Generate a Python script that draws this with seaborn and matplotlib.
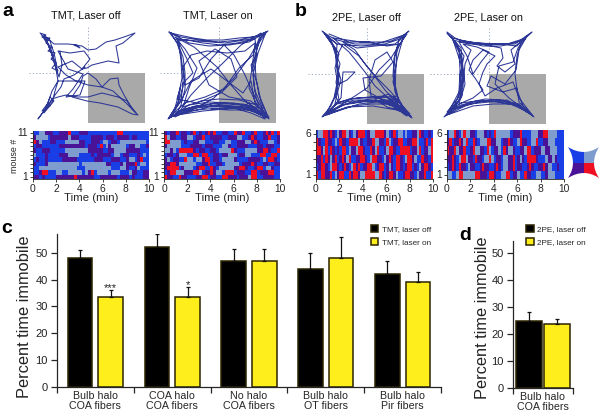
import numpy as np
import pandas as pd
import matplotlib
matplotlib.use('Agg')
import matplotlib.pyplot as plt
import seaborn as sns
from matplotlib.colors import ListedColormap
from matplotlib.patches import PathPatch, Rectangle
from matplotlib.path import Path

W, H = 600, 417

# Bar data
c_groups = ['Bulb halo\nCOA fibers', 'COA halo\nCOA fibers', 'No halo\nCOA fibers',
            'Bulb halo\nOT fibers', 'Bulb halo\nPir fibers']
c_off = [48, 52, 47, 44, 42]
c_on = [33.7, 33.7, 47, 48, 39]
c_off_err = [3, 5, 4.3, 6, 4.8]
c_on_err = [2.3, 3.4, 4.3, 7.7, 3.7]
c_stars = ['***', '*', '', '', '']
d_groups = ['Bulb halo\nCOA fibers']
d_off = [24.7]
d_on = [23.8]
d_off_err = [3.4]
d_on_err = [1.7]
y_ticks = [0, 10, 20, 30, 40, 50]

# Ethogram rows, top row first. B blue, L light, P purple, R red
a1_rows = [
    'BBLLPPPBBP PPRBBBPPPB BBBBBBBBBR RBBBBBBBBB',
    'PLLLLBPPPP PPLPPPBBBB PPPPBPPPBP PPPBPPBBBB',
    'RPLBBBPPBB BLLLLLPPBB PPPBLLBPPB LLLLLLLLLB',
    'BPPBBBBBBP PPPPPPPPBP PPBRBLPLLL LLBPPLLBBP',
    'PBBPPPBBBB BLLLLLLLLP PPPPBBPPLL LLPPPPPBBB',
    'LBBBPBBBBP PPLLLLBBBB PBPPPPPBLL BPPBBBPBLB',
    'BPBBPBBBBB PPPPPBBBBB BPPPBBBPPP BBPLLBPRBB',
    'PBBBPLLLLL LLLLLLBLLL LLLLLPPBBB PLPPPRBLLB',
    'BBLLLLLLLL LLLLLBBBLL LLLLLLLBBB LLPBBPLBBB',
    'BBPRRBBBLL BBLLLLLBLP RBLLLLBLLL BBBLPPBBPP',
    'PPBPBBBBPP PPPPRPPPPP PBBPPPPPPB PPPBPBBBPP',
]
a2_rows = [
    'PBPPRBPPBP RBPBPRPRBB PPBBRPPRBB PRBBPRPRBR',
    'RLPPBBPPLL BPPRBBPPPP BBPPPLLBBP RPBBPPRBBP',
    'RRLLLLBPBB PPLLBBBPPB BLLBBPPPLL PRPBBBLLBP',
    'PLLLLLBBBP PPPBPPPBBB LLPBBPPPPB BBPPBPPPBB',
    'LLPLBRRRRR PBPPBBPPBL LLLRPBBBLL LLPPRRPBBR',
    'BPPBPLLLBB RRBRRBBPPB PPLLLBPPLL BBBRRBBRRB',
    'PLBPPBBRLL BLLPRRBPPB LLLLPBBBBP PPPBLBRRPB',
    'PPRRPLLLLL LBBPPRBBPP BLLLLLBPPP RPBBPPBBPP',
    'PRRRRBPLLL BPRRBBRPBL LLLLPPRRPB BPRRBLLPBB',
    'BPRRLLLPPP RRLBPPRPLL BRRRBPPPBB RRBPPPRRBB',
    'RPPBBRPPBB BPPRRBPPBB RRPPPBPPPL RRBBPPPPBB',
]
b1_rows = [
    'BLLRRPRPBL PRRLPBLPRR RBPLLRRRRP LBPRBLLBLB BPPLRPBBPB',
    'RPBBRPPBLB RPPBRRRRLP BBPPRLLPPB RLBPPRRBBP PRRLBBPRBR',
    'RRPLRBRPBP BRRBLPPLRR PBBRPLRBBP LRRPBBRRRR BPPLRBPPLR',
    'PPRBRPLPRB PRPLRBBPPR RPBLRRPPBL PRPBRRPBLR RPLBBRPPBR',
    'BPRRPBLRRP BPRPBLRPRB PPRRLBPRRB PLPBRRPBPR RBPBLPRRPB',
    'RBRRPPRBLP RRBBRPRRPL LRRRRLLRPB PRRPLBBPRR PPBLPPRBBR',
]
b2_rows = [
    'BLLRPBLRLL PPBLLLPBPB RLLLLLLBPP PRBBBBLLLP PRRLLLLBBB',
    'PRBPPRPLRB BRPBLLLRRP PLLBPPRPBB LRPPBBLLRB BPPLLLBBBB',
    'RPPRLPPRBB PRLLPPBRLB PPLBRPLLPB BPPLRRBPPP LLPPLLLBBB',
    'PPRPBLRRLP PBRPPBLLRL BPPBLLPPRB PLPBRRRRPB BBLPPLPBBB',
    'BPRPBRPPBL PPBBPRPPBB PRPBLLPPRB PPBBPRPBBP PRPLLBBPBB',
    'LLBBLRRLLL LLRRPPPBRR PBBLLRRBPP LBBRPPBBLL BBPLLLBBBB',
]

# Arena tracks, relative to the centre of the open field
a1_path = [
    (-48, -40), (-42, -38), (-46, -36), (-38, -35), (-42, -30), (-36, -26), (-40, -22), (-33, -20),
    (-37, -14), (-32, -10), (-36, -5), (-30, -2), (-34, -12), (-39, -27), (-44, -38), (-34, -29),
    (-20, -29), (-11, -28), (-8, -25), (-14, -28), (-6, -27), (0, -23), (8, -24), (18, -31),
    (27, -33), (36, -36), (47, -40), (35, -30), (28, -27), (30, -16), (31, -10), (20, -12),
    (12, -10), (4, -8), (-1, -5), (-6, -4), (-3, -6), (-14, 2), (-24, 6), (-27, 14),
    (-33, 22), (-38, 30), (-44, 38), (-50, 46), (-42, 35), (-36, 26), (-30, 24), (-22, 22),
    (-10, 24), (0, 24), (14, 20), (30, 24), (39, 28), (44, 36), (50, 42), (44, 41),
    (30, 34), (12, 30), (-1, 28), (-16, 24), (-8, 12), (-5, 3), (0, 0), (8, 6),
    (14, 14), (22, 6), (30, 5), (31, 12), (36, 22), (42, 32), (48, 40), (38, 30),
    (25, 18), (14, 14), (0, 12), (-12, 8), (-22, 2), (-30, -6), (-16, -12), (-6, -4),
    (2, -14), (-4, -22), (-18, -20), (-30, -22), (-20, -4), (-5, 1), (-15, 16), (-22, 24),
    (-8, 22), (-3, 8), (-30, 8), (-36, 18), (-40, 30), (-46, 38),
    (-38, 33), (-42, 36), (-34, 28), (-38, 24), (-44, 40), (-36, 30), (-33, 18), (-30, 8),
    (-32, -4), (-36, -18), (-41, -32), (-47, -39), (-40, -28), (-35, -16), (-31, -6), (-34, -20),
    (-38, -32), (-44, -36), (-37, -24), (-33, -8), (-29, 4), (-26, -8), (-28, -22),
]
a2_path = [
    (-50, -41), (-44, -38), (-38, -36), (-20, -33), (0, -31), (20, -33), (38, -37), (49, -42),
    (42, -36), (38, -25), (36, -10), (37, 5), (40, 22), (50, 46), (40, 38), (20, 34),
    (0, 32), (-20, 34), (-38, 38), (-51, 46), (-44, 35), (-40, 20), (-37, 5), (-38, -12),
    (-40, -28), (-50, -41), (-30, -30), (-10, -27), (10, -28), (30, -31), (44, -39), (30, -15),
    (15, 5), (-5, 25), (-25, 36), (-48, 44), (-30, 32), (-10, 29), (15, 30), (35, 35),
    (48, 44), (35, 22), (25, 0), (15, -18), (5, -28), (-8, -14), (-20, 5), (-34, 12),
    (-36, -6), (-28, -18), (-12, -22), (8, -20), (26, -22), (36, -30), (33, -5), (30, 15),
    (38, 32), (20, 27), (0, 26), (-18, 28), (-36, 34), (-30, 15), (-22, -5), (-34, -24),
    (-44, -36), (-25, -26), (-2, -6), (12, 12), (26, 28), (46, 42), (28, 34), (6, 36),
    (-16, 38), (-42, 42), (-28, 22), (-12, 5), (4, -10), (22, -28), (42, -40), (34, -18),
    (20, -5), (5, 16), (-14, 24), (-34, 30), (-48, 42), (-38, 28), (-36, 10), (-26, 0),
    (-32, -14), (-42, -34), (-22, -32), (6, -30), (32, -34), (47, -41), (39, -20), (34, 2),
    (36, 18), (44, 36), (24, 31), (-4, 30), (-30, 36), (-50, 45), (-41, 30), (-38, 12),
    (-42, 26), (-22, 30), (2, 20), (18, 4), (12, -14), (-4, -24), (-20, -12), (-10, 12),
    (10, 24), (32, 28), (50, 44), (36, 30), (32, 8), (24, 20), (8, 8), (-8, -4),
    (-28, 8), (-36, 24), (-46, 40), (-24, 33), (4, 34), (28, 36), (42, 42), (30, 30),
    (18, 36), (32, 40), (46, 46), (38, 36), (14, 33), (-10, 34), (-34, 40),
    (-46, 43), (-36, 37), (-22, 35), (-8, 33), (8, 33), (22, 35), (36, 39), (47, 45),
    (40, 34), (37, 24), (35, 12), (34, -4), (36, -18), (40, -30), (46, -39), (34, -36),
    (20, -35), (4, -33), (-12, -33), (-26, -35), (-40, -38), (-48, -40), (-42, -30), (-38, -18),
    (-36, -2), (-36, 14), (-40, 28), (-48, 43), (-34, 36), (-14, 31), (10, 31), (30, 33),
    (44, 40), (34, 34), (12, 35), (-12, 36), (-32, 38), (-44, 44), (-38, 32), (-34, 16),
    (-34, 0), (-36, -16), (-42, -32), (-32, -33), (-16, -30), (2, -28), (18, -30), (36, -34),
    (38, -18), (32, -8), (38, 10), (42, 28), (48, 42), (30, 37), (10, 37), (-8, 36),
]
b1_path = [
    (-45, -43), (-38, -38), (-30, -34), (-12, -30), (6, -30), (24, -33), (34, -37), (42, -43),
    (32, -34), (28, -20), (27, -5), (28, 10), (32, 28), (45, 44), (34, 36), (18, 28),
    (0, 26), (-16, 28), (-30, 34), (-45, 43), (-36, 32), (-30, 18), (-28, 2), (-30, -14),
    (-36, -34), (-44, -42), (-32, -26), (-30, -8), (-26, 6), (-30, 20), (-32, 30), (-18, 25),
    (2, 23), (18, 22), (30, 30), (42, 41), (24, 18), (10, 4), (-2, -10), (-12, -24),
    (-24, -32), (-10, -26), (8, -28), (28, -30), (38, -38), (24, -16), (12, -4), (0, 14),
    (-12, 22), (-28, 32), (-42, 41), (-26, 24), (-24, -2), (-12, -2), (-20, 6), (-28, 10),
    (-30, -18), (-24, -30), (-8, -18), (6, 0), (18, 16), (36, 36), (20, 30), (4, 30),
    (-14, 32), (-36, 38), (-22, 30), (0, 27), (22, 26), (40, 40), (28, 18), (29, -8),
    (30, -26), (40, -40), (16, -32), (-6, -32), (-34, -36), (-18, -22), (-2, -2), (8, 12),
    (30, 32), (14, 25), (-2, 16), (-4, 4), (14, 2), (26, -12), (20, -22), (8, -14),
    (2, 6), (4, 22), (24, 28), (44, 43), (32, 28), (22, 24), (38, 38), (26, 34),
    (44, 42), (30, 36), (6, 32), (-20, 33), (-40, 41), (-28, 26), (-31, 8), (-27, -10),
    (-34, -28), (-42, -40), (-30, -30), (-6, -28), (18, -30), (36, -36), (30, -14), (26, 8),
    (30, 22), (12, 24), (-10, 24), (-28, 28),
    (-32, 22), (-29, 10), (-32, -6), (-28, -20), (-38, -36), (-30, -30), (-31, -12), (-29, 4),
    (-33, 24), (-40, 38), (-24, 31), (-6, 28), (12, 27), (28, 33), (40, 42), (33, 33),
    (27, 24), (35, 37), (20, 33), (8, 25), (22, 20), (30, 26), (43, 40), (30, 31),
    (10, 28), (-8, 30), (-26, 36), (-44, 42), (-30, 30), (-12, 26), (6, 26), (26, 30),
    (38, 41), (29, 20), (26, 2), (27, -16), (33, -30), (20, -28), (2, -32), (-18, -32),
    (-38, -40),
]
b2_path = [
    (-42, -42), (-34, -36), (-24, -32), (-6, -28), (12, -28), (28, -32), (36, -36), (43, -42),
    (32, -32), (28, -18), (26, 0), (28, 16), (34, 32), (45, 43), (30, 32), (14, 26),
    (-4, 25), (-18, 28), (-32, 34), (-45, 43), (-34, 30), (-28, 16), (-26, 0), (-27, -14),
    (-32, -30), (-42, -41), (-28, -26), (-26, -6), (-24, 10), (-28, 24), (-36, 36), (-20, 30),
    (0, 28), (18, 26), (32, 34), (44, 42), (30, 24), (24, 8), (8, 14), (-4, 22),
    (-10, 10), (-6, -2), (-2, -10), (6, -18), (-6, -24), (-16, -14), (-20, -4), (-14, 4),
    (-6, 16), (-16, 24), (-30, 30), (-26, 12), (-24, -10), (-18, -24), (-26, -30), (-12, -27),
    (0, -22), (-8, -12), (-16, 0), (-22, -18), (-30, -32), (-8, -30), (12, -26), (14, -16),
    (8, -8), (16, -2), (26, -10), (22, -24), (38, -38), (30, -24), (27, -4), (16, 10),
    (2, 2), (-2, 12), (14, 18), (28, 14), (30, 28), (42, 40), (24, 30), (4, 30),
    (-16, 32), (-42, 41), (-30, 26), (-26, 6), (-28, -10), (-36, -34), (-20, -30), (4, -30),
    (26, -30), (40, -40), (29, -26), (24, -12), (10, -8), (6, 10), (20, 24), (36, 36),
    (16, 28), (-6, 27), (-24, 32), (-40, 40), (-27, 22), (-29, 2), (-25, -18), (-34, -32),
    (-38, -38), (-30, -25), (-27, -8), (-28, 8), (-31, 24), (-42, 38), (-28, 31), (-10, 27),
    (8, 28), (26, 31), (38, 38), (30, 30), (10, 26), (-12, 27), (-28, 29), (-40, 37),
    (-30, 18), (-29, -4), (-30, -22), (-37, -36), (-20, -32), (0, -30), (18, -30), (34, -35),
    (28, -28), (10, -30), (-12, -31), (-30, -34),
]

# Colours
track_color = '#2c3796'
state_colors = ['#1a3ee6', '#7f9ccf', '#4a1296', '#ee1022']
state_codes = 'BLPR'
yellow = '#fdee1c'


# Add axes from a box given in pixels of the reference
def px_axes(fig, left, top, right, bottom):
    return fig.add_axes([left / W, 1 - bottom / H, (right - left) / W, (bottom - top) / H])


def px_text(fig, x, y, label, **kwargs):
    fig.text(x / W, 1 - y / H, label, ha=kwargs.pop('ha', 'center'), va='center', **kwargs)


def draw_arena(fig, cx, cy, path, title, title_x, title_y):
    ax = px_axes(fig, cx - 62, cy - 52, cx + 62, cy + 54)
    ax.add_patch(Rectangle((0, 0), 56.5, 50, color='#a9a9a9', lw=0, zorder=1))
    ax.plot([-59, 0], [0, 0], color='#8f9fb5', lw=0.6, ls=(0, (1.5, 2.5)), zorder=1)
    ax.plot([0, 0], [-46, 0], color='#8f9fb5', lw=0.6, ls=(0, (1.5, 2.5)), zorder=1)
    track = pd.DataFrame(path, columns=['x', 'y'])
    sns.lineplot(data=track, x='x', y='y', sort=False, estimator=None, ax=ax,
                 color=track_color, lw=0.75, zorder=2)
    ax.set_xlim(-62, 62)
    ax.set_ylim(54, -52)
    ax.axis('off')
    px_text(fig, title_x, title_y, title, fontsize=7.8, color='#111111')


def draw_ethogram(fig, box, rows, ylabel=None):
    grid = [[state_codes.index(ch) for ch in row.replace(' ', '')] for row in rows]
    grid = np.array(grid)
    ax = px_axes(fig, *box)
    sns.heatmap(grid, ax=ax, cmap=ListedColormap(state_colors), vmin=0, vmax=3, cbar=False)
    n_rows, n_cols = grid.shape
    ax.set_xticks(np.linspace(0, n_cols, 6), ['0', '2', '4', '6', '8', '10'], rotation=0)
    ax.set_yticks(np.arange(n_rows) + 0.5,
                  [str(n_rows)] + [''] * (n_rows - 2) + ['1'], rotation=0)
    ax.tick_params(axis='both', length=2, width=0.6, pad=1.5, labelsize=7.4, color='#222222')
    ax.set_xlabel('Time (min)', fontsize=8.2, labelpad=-0.5)
    if ylabel:
        ax.set_ylabel(ylabel, fontsize=6.4, labelpad=-1, y=0.48)
    for side in ['left', 'bottom']:
        ax.spines[side].set_visible(True)
        ax.spines[side].set_linewidth(0.6)


def draw_bars(fig, box, groups, off, on, off_err, on_err, names, ymax, xlim, width, gap, legend_pos):
    ax = px_axes(fig, *box)
    data = pd.DataFrame({
        'group': groups * 2,
        'value': off + on,
        'state': [names[0]] * len(groups) + [names[1]] * len(groups),
    })
    sns.barplot(data=data, x='group', y='value', hue='state', ax=ax, width=width, gap=gap,
                palette=['black', yellow], edgecolor='#2b2500', linewidth=1.1, saturation=1)
    # upper error bars only, sitting on top of the bars
    for container, errs in zip(ax.containers, [off_err, on_err]):
        for bar, err in zip(container, errs):
            ax.errorbar(bar.get_x() + bar.get_width() / 2, bar.get_height(), yerr=[[0], [err]],
                        color='#111111', lw=0.9, capsize=1.6, capthick=0.9, zorder=1)
    ax.set_xlim(*xlim)
    ax.set_ylim(0, ymax)
    ax.set_yticks(y_ticks)
    ax.set_xticks(np.arange(xlim[0], xlim[1] + 0.01), minor=True)
    ax.tick_params(axis='x', which='major', length=0, pad=3, labelsize=7.7)
    ax.tick_params(axis='x', which='minor', length=4.5, width=0.9)
    ax.tick_params(axis='y', length=4.5, width=0.9, pad=2.2, labelsize=8, labelcolor='#222222')
    ax.set_xlabel('')
    ax.set_ylabel('')
    for label in ax.get_xticklabels():
        label.set_linespacing(1.0)
    sns.despine(ax=ax)
    for side in ['left', 'bottom']:
        ax.spines[side].set_linewidth(0.9)
    sns.move_legend(ax, 'upper left', bbox_to_anchor=legend_pos, frameon=False, title=None,
                    fontsize=5.9, handlelength=0.9, handleheight=0.9, handletextpad=0.45,
                    labelspacing=0.6, borderpad=0, borderaxespad=0)
    return ax


def draw_key(fig):
    ax = px_axes(fig, 568, 147, 599, 178)
    mesh_ax = sns.heatmap(np.array([[0, 1], [2, 3]]), ax=ax, cmap=ListedColormap(state_colors),
                          vmin=0, vmax=3, cbar=False, xticklabels=False, yticklabels=False)
    star = Path(
        [(0, 0), (1, 0.65), (2, 0), (1.35, 1), (2, 2), (1, 1.35), (0, 2), (0.65, 1), (0, 0)],
        [Path.MOVETO, Path.CURVE3, Path.CURVE3, Path.CURVE3, Path.CURVE3,
         Path.CURVE3, Path.CURVE3, Path.CURVE3, Path.CURVE3],
    )
    clip = PathPatch(star, transform=ax.transData, fc='none', ec='none')
    ax.add_patch(clip)
    mesh_ax.collections[0].set_clip_path(clip)
    ax.axis('off')


def main():
    sns.set_theme(style='ticks')
    plt.rcParams['font.family'] = ['Liberation Sans', 'DejaVu Sans']
    fig = plt.figure(figsize=(W / 100, H / 100), dpi=100, facecolor='white')

    draw_arena(fig, 88, 73, a1_path, 'TMT, Laser off', 86, 15)
    draw_arena(fig, 219, 73, a2_path, 'TMT, Laser on', 218, 15)
    draw_arena(fig, 367, 74, b1_path, '2PE, Laser off', 366, 17)
    draw_arena(fig, 489, 74, b2_path, '2PE, Laser on', 488, 17)

    draw_ethogram(fig, (33, 131, 149, 179), a1_rows, 'mouse #')
    draw_ethogram(fig, (164, 131, 280, 179), a2_rows)
    draw_ethogram(fig, (316, 130, 433, 179), b1_rows)
    draw_ethogram(fig, (447, 130, 564, 179), b2_rows)
    draw_key(fig)

    ax_c = draw_bars(fig, (57, 234, 441, 387), c_groups, c_off, c_on, c_off_err, c_on_err,
                     ['TMT, laser off', 'TMT, laser on'], 57, (-0.5, 4.5), 0.8, 0.2, (0.818, 1.06))
    for i, star in enumerate(c_stars):
        if star:
            top = c_on[i] + c_on_err[i]
            ax_c.text(i + 0.2, top + 1.0, star, ha='center', va='center', fontsize=8, color='#222222')
    ax_c.set_ylabel('Percent time immobile', fontsize=11.8, color='#222222')
    ax_c.yaxis.set_label_coords(-25 / 384, 0.46)

    ax_d = draw_bars(fig, (513, 241, 573, 388), d_groups, d_off, d_on, d_off_err, d_on_err,
                     ['2PE, laser off', '2PE, laser on'], 54.5, (-0.5, 0.5), 0.95, 0.1, (0.22, 1.11))
    ax_d.set_ylabel('Percent time immobile', fontsize=11.8, color='#222222')
    ax_d.yaxis.set_label_coords(-23 / 60, 0.48)

    for x, y, letter in [(8, 11, 'a'), (301, 11, 'b'), (7, 228, 'c'), (465, 236, 'd')]:
        px_text(fig, x, y, letter, fontsize=14, fontweight='bold', color='black')

    fig.savefig('out.png', dpi=100)
    plt.close(fig)


if __name__ == '__main__':
    main()
